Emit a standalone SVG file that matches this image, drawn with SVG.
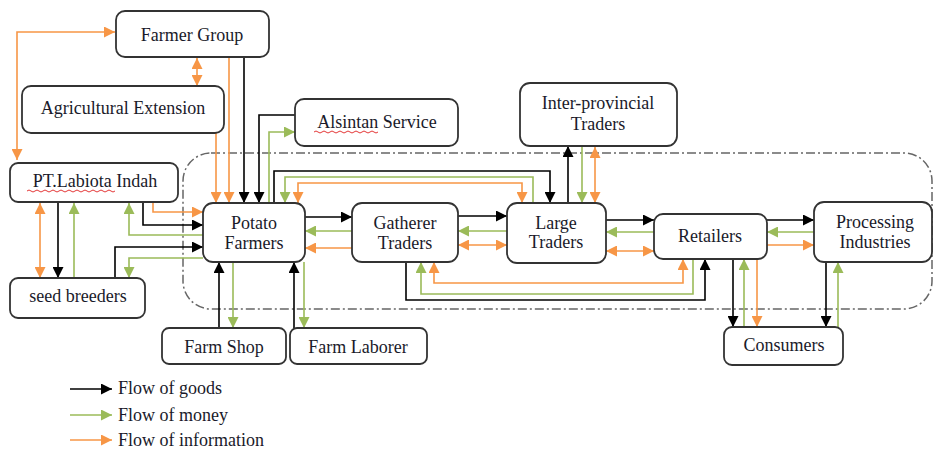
<svg xmlns="http://www.w3.org/2000/svg" width="935" height="450" viewBox="0 0 935 450">
<style>
.box{fill:#fff;stroke:#333;stroke-width:1.8}
.t{font-family:"Liberation Serif","Times New Roman",serif;font-size:18px;fill:#1a1a2a;text-anchor:middle}
.lt{font-family:"Liberation Serif","Times New Roman",serif;font-size:18px;fill:#1a1a2a}
.k{fill:none;stroke:#000;stroke-width:1.6;marker-end:url(#ak)}
.g{fill:none;stroke:#9bbb59;stroke-width:1.6;marker-end:url(#ag)}
.o{fill:none;stroke:#f79646;stroke-width:1.6;marker-end:url(#ao)}
.ob{marker-start:url(#ao)}
.sq{fill:none;stroke:#e02020;stroke-width:0.9}
</style>
<defs>
<marker id="ak" viewBox="0 0 10 10" refX="10" refY="5" markerWidth="12" markerHeight="11" markerUnits="userSpaceOnUse" orient="auto-start-reverse"><path d="M0,0 L10,5 L0,10 z" fill="#000"/></marker>
<marker id="ag" viewBox="0 0 10 10" refX="10" refY="5" markerWidth="12" markerHeight="11" markerUnits="userSpaceOnUse" orient="auto-start-reverse"><path d="M0,0 L10,5 L0,10 z" fill="#9bbb59"/></marker>
<marker id="ao" viewBox="0 0 10 10" refX="10" refY="5" markerWidth="12" markerHeight="11" markerUnits="userSpaceOnUse" orient="auto-start-reverse"><path d="M0,0 L10,5 L0,10 z" fill="#f79646"/></marker>
</defs>

<rect id="region" x="183" y="153" width="749" height="156" rx="28" fill="none" stroke="#666" stroke-width="1.5" stroke-dasharray="9 3 2 3"/>

<g id="connectors">
<path class="o ob" d="M17,160 V32 H115"/>
<path class="o ob" d="M197,58 V86"/>
<path class="o" d="M216,133 V203"/>
<path class="o" d="M229,57 V203"/>
<path class="k" d="M244,57 V203"/>
<path class="k" d="M295,115 H259 V203"/>
<path class="g" d="M269,203 V132 H295"/>
<path class="k" d="M274,203 V171 H550 V203"/>
<path class="g" d="M533,203 V177 H285 V203"/>
<path class="o ob" d="M298,203 V183 H522 V203"/>
<path class="o" d="M153,202 V212 H203"/>
<path class="k" d="M143,202 V225 H203"/>
<path class="g" d="M203,235 H129 V203"/>
<path class="k" d="M115,278 V247 H203"/>
<path class="g" d="M203,258 H129 V278"/>
<path class="k" d="M58,202 V278"/>
<path class="g" d="M74,278 V203"/>
<path class="o ob" d="M40,203 V278"/>
<path class="k" d="M219,328 V262"/>
<path class="g" d="M233,262 V328"/>
<path class="k" d="M294,328 V262"/>
<path class="g" d="M304,262 V328"/>
<path class="k" d="M305,217 H352"/>
<path class="g" d="M352,231 H305"/>
<path class="o" d="M352,248 H305"/>
<path class="k" d="M458,216 H507"/>
<path class="g" d="M507,231 H458"/>
<path class="o ob" d="M458,245 H507"/>
<path class="k" d="M568,203 V146"/>
<path class="g" d="M582,146 V203"/>
<path class="o ob" d="M595,147 V203"/>
<path class="k" d="M606,220 H654"/>
<path class="g" d="M654,232 H606"/>
<path class="o ob" d="M606,251 H654"/>
<path class="k" d="M406,262 V300 H705 V259"/>
<path class="g" d="M693,259 V294 H421 V262"/>
<path class="o ob" d="M434,262 V283 H683 V259"/>
<path class="k" d="M767,220 H814"/>
<path class="g" d="M814,232 H767"/>
<path class="o" d="M767,245 H814"/>
<path class="k" d="M733,259 V327"/>
<path class="g" d="M744,327 V259"/>
<path class="o" d="M757,259 V327"/>
<path class="k" d="M826,262 V327"/>
<path class="g" d="M838,327 V262"/>
</g>

<g id="farmer-group"><rect class="box" x="116" y="11" width="153" height="46" rx="9"/><text class="t" x="192" y="41">Farmer Group</text></g>
<g id="agricultural-extension"><rect class="box" x="22" y="86" width="202" height="47" rx="9"/><text class="t" x="123" y="114">Agricultural Extension</text></g>
<g id="pt-labiota-indah"><rect class="box" x="10" y="163" width="168" height="39" rx="8"/><text class="t" x="95" y="187">PT.Labiota Indah</text><path class="sq" d="M27,191 q2,-2 4,0 t4,0 t4,0 t4,0 t4,0 t4,0 t4,0 t4,0 t4,0 t4,0 t4,0 t4,0 t4,0 t4,0 t4,0 t4,0 t4,0 t4,0 t4,0 t4,0 t4,0 t4,0"/></g>
<g id="seed-breeders"><rect class="box" x="10" y="278" width="135" height="40" rx="8"/><text class="t" x="78" y="302">seed breeders</text></g>
<g id="alsintan-service"><rect class="box" x="295" y="99" width="163" height="47" rx="9"/><text class="t" x="377" y="128">Alsintan Service</text><path class="sq" d="M314,132 q2,-2 4,0 t4,0 t4,0 t4,0 t4,0 t4,0 t4,0 t4,0 t4,0 t4,0 t4,0 t4,0 t4,0 t4,0 t4,0 t4,0"/></g>
<g id="potato-farmers"><rect class="box" x="203" y="203" width="102" height="59" rx="10"/><text class="t" x="254" y="229">Potato</text><text class="t" x="254" y="249">Farmers</text></g>
<g id="gatherer-traders"><rect class="box" x="352" y="203" width="106" height="59" rx="10"/><text class="t" x="405" y="229">Gatherer</text><text class="t" x="405" y="249">Traders</text></g>
<g id="large-traders"><rect class="box" x="507" y="203" width="99" height="60" rx="10"/><text class="t" x="556" y="229">Large</text><text class="t" x="556" y="248">Traders</text></g>
<g id="inter-provincial-traders"><rect class="box" x="520" y="83" width="157" height="63" rx="10"/><text class="t" x="598" y="109">Inter-provincial</text><text class="t" x="598" y="130">Traders</text></g>
<g id="retailers"><rect class="box" x="654" y="214" width="113" height="45" rx="9"/><text class="t" x="710" y="242">Retailers</text></g>
<g id="processing-industries"><rect class="box" x="814" y="202" width="118" height="60" rx="10"/><text class="t" x="875" y="228">Processing</text><text class="t" x="875" y="248">Industries</text></g>
<g id="consumers"><rect class="box" x="724" y="327" width="119" height="38" rx="8"/><text class="t" x="784" y="351">Consumers</text></g>
<g id="farm-shop"><rect class="box" x="162" y="328" width="124" height="36" rx="7"/><text class="t" x="224" y="353">Farm Shop</text></g>
<g id="farm-laborer"><rect class="box" x="290" y="328" width="137" height="36" rx="7"/><text class="t" x="358" y="353">Farm Laborer</text></g>

<g id="legend">
<path class="k" d="M70,389 H112"/>
<text class="lt" x="118" y="394">Flow of goods</text>
<path class="g" d="M70,415 H112"/>
<text class="lt" x="118" y="421">Flow of money</text>
<path class="o" d="M70,440 H112"/>
<text class="lt" x="118" y="446">Flow of information</text>
</g>
</svg>
